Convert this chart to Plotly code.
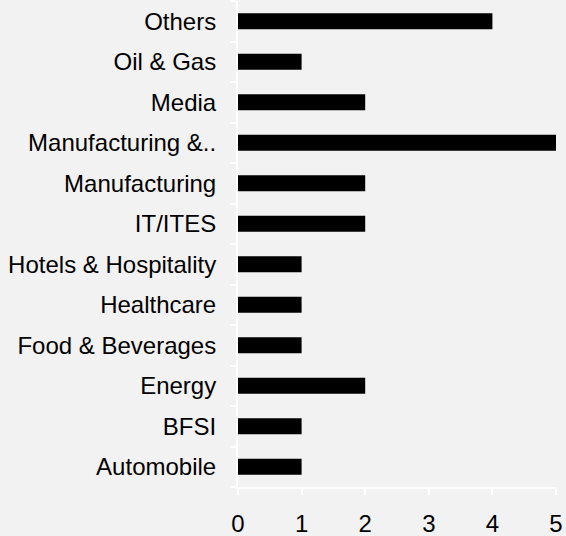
import plotly.graph_objects as go

categories = ["Automobile", "BFSI", "Energy", "Food & Beverages", "Healthcare",
              "Hotels & Hospitality", "IT/ITES", "Manufacturing", "Manufacturing &..",
              "Media", "Oil & Gas", "Others"]
values = [1, 1, 2, 1, 1, 1, 2, 2, 5, 2, 1, 4]
x_ticks = [0, 1, 2, 3, 4, 5]

fig = go.Figure(go.Bar(
    x=values, y=categories, orientation="h",
    marker=dict(color="#000000", line=dict(width=0)),
))

font = dict(family="Liberation Sans, Arial, sans-serif", size=24, color="#000000")

fig.update_layout(
    width=566, height=536,
    margin=dict(l=238, r=10, t=1, b=49, pad=0),
    paper_bgcolor="#f2f2f2", plot_bgcolor="#f2f2f2",
    bargap=0.6, showlegend=False, font=font,
)
fig.update_xaxes(
    range=[0, 5], tickvals=x_ticks, showgrid=False, zeroline=False,
    showline=True, linecolor="white", linewidth=2,
    ticks="outside", ticklen=6, tickwidth=2, tickcolor="white",
    ticklabelstandoff=8, tickfont=font, automargin=False,
)
fig.update_yaxes(
    showgrid=False, zeroline=False, showline=True, linecolor="white", linewidth=2,
    ticks="outside", ticklen=6, tickwidth=2, tickcolor="white", tickson="boundaries",
    ticklabelstandoff=15, tickfont=font, automargin=False,
)

fig.write_html("out.html")
